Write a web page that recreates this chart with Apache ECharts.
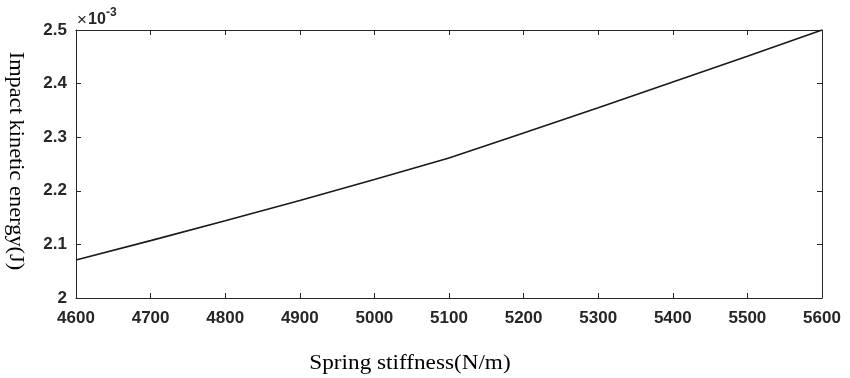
<!DOCTYPE html>
<html>
<head>
<meta charset="utf-8">
<script src="https://cdn.jsdelivr.net/npm/echarts@6/dist/echarts.min.js"></script>
<style>
  html, body { margin: 0; padding: 0; background: #fff; }
  #chart { width: 850px; height: 378px; }
</style>
</head>
<body>
<div id="chart"></div>
<script>
// Spring stiffness (N/m)
const stiffness = [4600, 4700, 4800, 4900, 5000, 5100, 5200, 5300, 5400, 5500, 5600];
// Impact kinetic energy, in units of 1e-3 J
const energyE3 = [2.071, 2.107, 2.144, 2.182, 2.221, 2.261, 2.308, 2.355, 2.403, 2.451, 2.500];
const xTicks = [4600, 4700, 4800, 4900, 5000, 5100, 5200, 5300, 5400, 5500, 5600];
const yTicks = [2, 2.1, 2.2, 2.3, 2.4, 2.5];
const xTitle = 'Spring stiffness(N/m)';
const yTitle = 'Impact kinetic energy(J)';

const axisColor = '#262626';
const sansFamily = 'Liberation Sans, Arial, sans-serif';
const sansBold = { fontFamily: sansFamily, fontWeight: 'bold' };
const labelFont = Object.assign({ fontSize: 17, color: axisColor }, sansBold);
const serif = 'Liberation Serif, Times New Roman, serif';

const chart = echarts.init(document.getElementById('chart'), null, { renderer: 'canvas' });

const xBase = {
  type: 'value', min: 4600, max: 5600, interval: 100,
  axisLine: { show: true, lineStyle: { color: axisColor, width: 1 } },
  axisTick: { show: true, inside: true, length: 5, lineStyle: { color: axisColor } },
  splitLine: { show: false }
};
const yBase = {
  type: 'value', min: 2, max: 2.5, interval: 0.1,
  axisLine: { show: true, lineStyle: { color: axisColor, width: 1 } },
  axisTick: { show: true, inside: true, length: 5, lineStyle: { color: axisColor } },
  splitLine: { show: false }
};

chart.setOption({
  backgroundColor: '#fff',
  animation: false,
  grid: { left: 76, right: 28, top: 30, bottom: 80, containLabel: false },
  xAxis: [
    Object.assign({}, xBase, {
      position: 'bottom',
      axisLabel: Object.assign({ margin: 12, formatter: v => xTicks.includes(v) ? String(v) : '' }, labelFont)
    }),
    Object.assign({}, xBase, { position: 'top', axisLabel: { show: false } })
  ],
  yAxis: [
    Object.assign({}, yBase, {
      position: 'left',
      axisLabel: Object.assign({
        margin: 9,
        formatter: v => {
          const t = yTicks.find(k => Math.abs(k - v) < 1e-9);
          return t === undefined ? '' : String(t);
        }
      }, labelFont)
    }),
    Object.assign({}, yBase, { position: 'right', axisLabel: { show: false } })
  ],
  graphic: [
    // exponent marker above the y axis
    {
      type: 'text', x: 77, y: 20,
      style: { text: '×', fontFamily: sansFamily, fontSize: 17, fill: axisColor, align: 'left', verticalAlign: 'middle' }
    },
    {
      type: 'text', x: 88, y: 20,
      style: Object.assign({ text: '10', fontSize: 16, fill: axisColor, align: 'left', verticalAlign: 'middle' }, sansBold)
    },
    {
      type: 'text', x: 106, y: 13,
      style: Object.assign({ text: '-3', fontSize: 12, fill: axisColor, align: 'left', verticalAlign: 'middle' }, sansBold)
    },
    // axis titles
    {
      type: 'text', x: 410, y: 364, scaleX: 1.16,
      style: { text: xTitle, fontFamily: serif, fontSize: 20, fill: '#000', align: 'center', verticalAlign: 'middle' }
    },
    {
      type: 'text', x: 15, y: 161, rotation: -Math.PI / 2, scaleX: 1.12,
      style: { text: yTitle, fontFamily: serif, fontSize: 20, fill: '#000', align: 'center', verticalAlign: 'middle' }
    }
  ],
  series: [{
    type: 'line',
    xAxisIndex: 0,
    yAxisIndex: 0,
    data: stiffness.map((x, i) => [x, energyE3[i]]),
    showSymbol: false,
    symbol: 'none',
    lineStyle: { color: '#1a1a1a', width: 1.6 },
    clip: true
  }]
});
</script>
</body>
</html>
